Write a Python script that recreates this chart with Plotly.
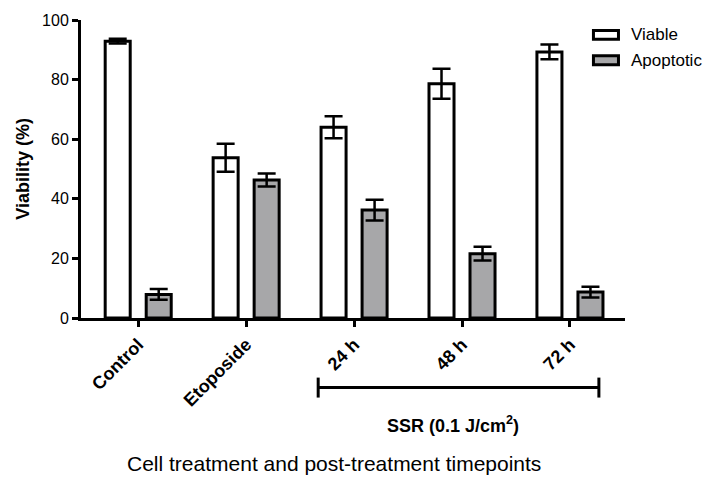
import plotly.graph_objects as go

# categories and series
categories = ['Control', 'Etoposide', '24 h', '48 h', '72 h']
viable      = [92.9, 53.8, 64.0, 78.6, 89.3]
viable_err  = [0.8, 4.7, 3.7, 5.0, 2.5]
apoptotic     = [7.9, 46.3, 36.2, 21.6, 8.7]
apoptotic_err = [1.8, 2.2, 3.5, 2.3, 1.8]
y_ticks = [0, 20, 40, 60, 80, 100]

FONT = 'Arial, Liberation Sans, sans-serif'
GREY = '#a7a7a9'

fig = go.Figure()
fig.add_trace(go.Bar(
    name='Viable', x=categories, y=viable,
    marker=dict(color='white', line=dict(color='black', width=3)),
    error_y=dict(type='data', array=viable_err, color='black', thickness=2.5, width=9),
))
fig.add_trace(go.Bar(
    name='Apoptotic', x=categories, y=apoptotic,
    marker=dict(color=GREY, line=dict(color='black', width=3)),
    error_y=dict(type='data', array=apoptotic_err, color='black', thickness=2.5, width=9),
))

# hand-drawn legend (wide boxes like the original)
shapes = []
annotations = []
for i, (name, fill) in enumerate([('Viable', 'white'), ('Apoptotic', GREY)]):
    y0 = 0.965 - i * 0.085
    shapes.append(dict(type='rect', xref='paper', yref='paper',
                       x0=0.942, x1=0.988, y0=y0 - 0.03, y1=y0,
                       fillcolor=fill, line=dict(color='black', width=3)))
    annotations.append(dict(text=name, xref='paper', yref='paper',
                            x=1.008, y=y0 - 0.015, xanchor='left', yanchor='middle',
                            showarrow=False, font=dict(size=17, color='black', family=FONT)))

# SSR bracket under the last three groups
shapes += [
    dict(type='line', xref='paper', yref='paper', x0=0.436, x1=0.952, y0=-0.233, y1=-0.233,
         line=dict(color='black', width=3)),
    dict(type='line', xref='paper', yref='paper', x0=0.436, x1=0.436, y0=-0.2, y1=-0.267,
         line=dict(color='black', width=3)),
    dict(type='line', xref='paper', yref='paper', x0=0.952, x1=0.952, y0=-0.2, y1=-0.267,
         line=dict(color='black', width=3)),
]
annotations += [
    dict(text='<b>SSR (0.1 J/cm<sup>2</sup>)</b>', xref='paper', yref='paper',
         x=0.684, y=-0.357, xanchor='center', yanchor='middle', showarrow=False,
         font=dict(size=18, color='black', family=FONT)),
    dict(text='Cell treatment and post-treatment timepoints', xref='paper', yref='paper',
         x=0.465, y=-0.487, xanchor='center', yanchor='middle', showarrow=False,
         font=dict(size=21, color='black', family=FONT)),
    dict(text='<b>Viability (%)</b>', xref='paper', yref='paper',
         x=-0.107, y=0.5, xanchor='center', yanchor='middle', textangle=-90,
         showarrow=False, font=dict(size=18, color='black', family=FONT)),
]

fig.update_layout(
    width=714, height=487,
    margin=dict(l=81, r=89, t=18, b=169),
    barmode='group', bargap=0.24, bargroupgap=0.39,
    plot_bgcolor='white', paper_bgcolor='white',
    showlegend=False,
    font=dict(family=FONT, color='black'),
    shapes=shapes, annotations=annotations,
)
fig.update_xaxes(
    range=[-0.53, 4.51], showline=True, linewidth=3, linecolor='black',
    ticks='outside', ticklen=6, tickwidth=3, tickcolor='black',
    tickangle=-45, tickfont=dict(size=18, family=FONT),
    tickprefix='<b>', ticksuffix='</b>', showgrid=False,
)
fig.update_yaxes(
    range=[0, 100], tickvals=y_ticks, showline=True, linewidth=3, linecolor='black',
    ticks='outside', ticklen=6, tickwidth=3, tickcolor='black',
    tickfont=dict(size=16, family=FONT), tickprefix='<b>', ticksuffix='</b>',
    showgrid=False, zeroline=False,
)

# page has a default 8px body margin; drop it so the figure sits at the window origin
fig.write_html("out.html", config={'displayModeBar': False},
               post_script="document.body.style.margin='0';")
